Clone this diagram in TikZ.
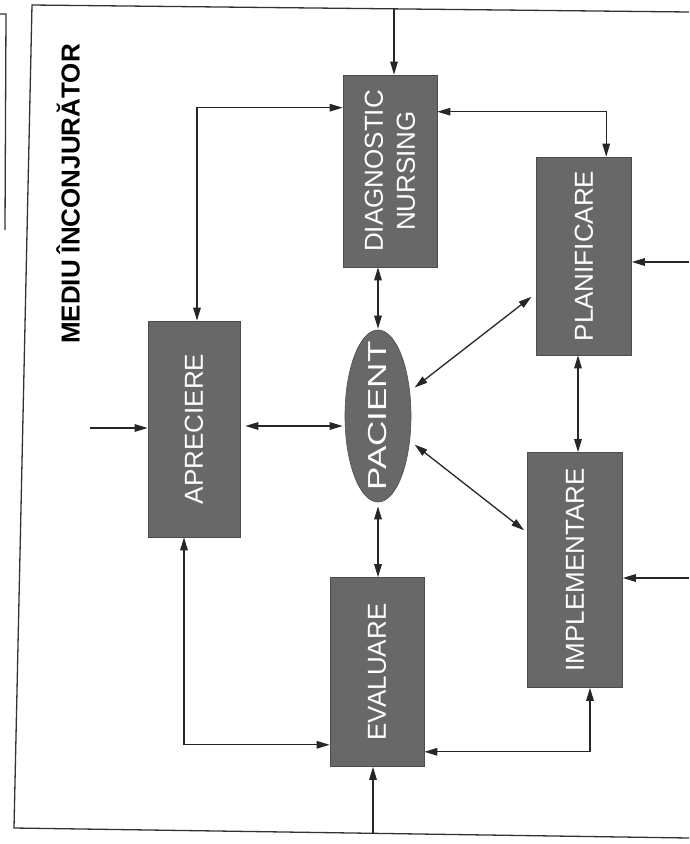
\documentclass[tikz,border=0pt]{standalone}
\usepackage{fontspec}
\setmainfont{Liberation Sans}
\usetikzlibrary{arrows.meta,calc,shapes.geometric}
\definecolor{boxgray}{RGB}{104,104,104}
\tikzset{
  blk/.style={draw=black!70,line width=0.6pt,fill=boxgray,text=white,inner sep=0pt,font=\fontsize{26}{30}\selectfont},
  rbox/.style={blk,rectangle},
  lbl/.style={rotate=90,text=white,font=\fontsize{26}{30}\selectfont},
  conn/.style={line width=1.3pt,draw=black!85,-{Triangle[length=13pt,width=7.5pt]}},
  dbl/.style={line width=1.3pt,draw=black!85,{Triangle[length=13pt,width=7.5pt]}-{Triangle[length=13pt,width=7.5pt]}},
  frame/.style={line width=1.3pt,draw=black!80}
}
\begin{document}
\begin{tikzpicture}[x=1pt,y=-1pt]
\useasboundingbox (0,0) rectangle (689,844);
% frames
\draw[frame] (0,14) -- (6,14) -- (5,230);
\draw[frame] (689,12) -- (32,5) -- (14,828) -- (689,838);
% title
\node[font=\bfseries\fontsize{26}{30}\selectfont,rotate=90] (title) at (68,194) {MEDIU ÎNCONJURĂTOR};
% nodes
\node[rbox,minimum width=94pt,minimum height=192pt] (diag) at (390,171) {};
\node[lbl,align=center] (diagt) at (diag.center) {DIAGNOSTIC\\[2pt]NURSING};
\node[rbox,minimum width=95pt,minimum height=198pt] (plan) at (584,256) {};
\node[lbl] (plant) at (plan.center) {PLANIFICARE};
\node[rbox,minimum width=92pt,minimum height=216pt] (aprec) at (194,429) {};
\node[lbl] (aprect) at (aprec.center) {APRECIERE};
\node[blk,ellipse,minimum width=66pt,minimum height=172pt] (pac) at (378,416) {};
\node[lbl,xscale=1.35] (pact) at (pac.center) {PACIENT};
\node[rbox,minimum width=95pt,minimum height=235pt] (impl) at (575,570) {};
\node[lbl] (implt) at (impl.center) {IMPLEMENTARE};
\node[rbox,minimum width=94pt,minimum height=189pt] (eval) at (377,672) {};
\node[lbl] (evalt) at (eval.center) {EVALUARE};
% free ends
\coordinate (topin) at (394,9);
\coordinate (r1) at (689,262);
\coordinate (r2) at (689,578);
\coordinate (lin) at (90,428);
\coordinate (bin) at (373,834);
% connectors
\draw[conn] (topin) -- (topin |- diag.north);
\draw[dbl] ($(aprec.north)+(3,0)$) |- ($(diag.north west)+(0,33)$);
\draw[dbl] ($(diag.north east)+(0,37)$) -| ($(plan.north west)+(70,0)$);
\draw[dbl] ($(diag.south)+(-12,0)$) -- ($(pac.north)+(0,-1)$);
\draw[conn] (r1) -- (r1 -| plan.east);
\draw[dbl,shorten <=6pt,shorten >=6pt] (pac) -- (plan);
\draw[dbl] ($(plan.south)+(-6,0)$) -- ($(impl.north)+(3,0)$);
\draw[dbl,shorten <=6pt,shorten >=4pt] (pac) -- (impl);
\draw[conn] (r2) -- (r2 -| impl.east);
\draw[conn] (lin) -- (lin -| aprec.west);
\draw[dbl] ($(aprec.east)+(5,-3)$) -- ($(pac.west)+(-2,10)$);
\draw[dbl] ($(pac.south)+(0,4)$) -- ($(eval.north)+(1,0)$);
\draw[dbl] ($(aprec.south)+(-10,0)$) |- ($(eval.south west)+(0,-22)$);
\draw[dbl] ($(eval.south east)+(0,-15)$) -| ($(impl.south)+(15,0)$);
\draw[conn] (bin) -- (bin |- eval.south);
\end{tikzpicture}
\end{document}
